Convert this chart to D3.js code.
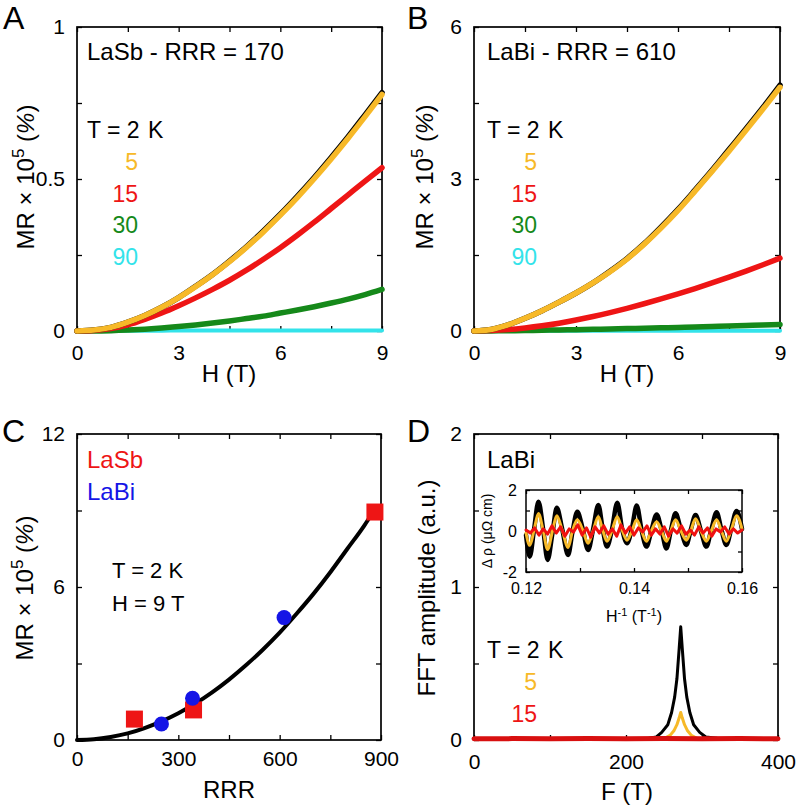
<!DOCTYPE html>
<html><head><meta charset="utf-8">
<script src="https://cdn.jsdelivr.net/npm/d3@7"></script>
<style>
body{margin:0;background:#fff}
svg{font-family:"Liberation Sans",Arial,Helvetica,sans-serif}
</style></head><body>
<svg id="c" width="796" height="806"></svg>
<script>
// ---------------- data ----------------
const fieldH = [0,0.5,1,1.5,2,2.5,3,3.5,4,4.5,5,5.5,6,6.5,7,7.5,8,8.5,9];
// Panel A : LaSb RRR=170
const lasb2K  = [0,0.003,0.012,0.029,0.051,0.078,0.110,0.147,0.186,0.230,0.277,0.329,0.384,0.443,0.505,0.571,0.639,0.711,0.784];
const lasb5K  = [0,0.003,0.012,0.029,0.051,0.078,0.110,0.146,0.185,0.228,0.275,0.326,0.381,0.439,0.501,0.566,0.634,0.705,0.778];
const lasb15K = [0,0.002,0.008,0.020,0.038,0.059,0.083,0.109,0.137,0.167,0.200,0.236,0.274,0.315,0.358,0.403,0.448,0.493,0.537];
const lasb30K = [0,0.0003,0.001,0.003,0.006,0.010,0.015,0.020,0.026,0.033,0.041,0.049,0.059,0.069,0.080,0.092,0.105,0.120,0.137];
const lasb90K = [0,0.001,0.001,0.001,0.001,0.001,0.002,0.002,0.002,0.002,0.002,0.002,0.002,0.002,0.002,0.002,0.002,0.002,0.002];
// Panel B : LaBi RRR=610
const labi2K  = [0,0.03,0.12,0.25,0.40,0.57,0.75,0.95,1.18,1.43,1.72,2.05,2.40,2.78,3.17,3.58,3.99,4.41,4.85];
const labi5K  = [0,0.03,0.12,0.25,0.40,0.57,0.75,0.95,1.17,1.42,1.71,2.03,2.38,2.76,3.15,3.55,3.96,4.38,4.81];
const labi15K = [0,0.008,0.028,0.060,0.102,0.154,0.216,0.286,0.364,0.448,0.538,0.633,0.733,0.838,0.948,1.063,1.183,1.308,1.438];
const labi30K = [0,0.002,0.005,0.010,0.015,0.021,0.027,0.033,0.040,0.047,0.055,0.062,0.070,0.079,0.088,0.098,0.108,0.119,0.130];
const labi90K = [0,0.004,0.005,0.005,0.005,0.005,0.005,0.005,0.005,0.005,0.005,0.005,0.005,0.005,0.005,0.005,0.005,0.005,0.005];
const tempLabels = ["5","15","30","90"];
// Panel C
const lasbRRR = [170, 345, 882];
const lasbMR  = [0.82, 1.18, 8.94];
const labiRRR = [250, 342, 613];
const labiMR  = [0.63, 1.64, 4.80];
const fitRRR = [0,50,100,150,200,250,300,350,400,450,500,550,600,650,700,750,800,850,865];
const fitMR  = [0,0.03,0.12,0.26,0.47,0.73,1.05,1.43,1.87,2.37,2.93,3.54,4.21,4.95,5.73,6.58,7.49,8.40,8.70];
// Panel D : FFT
const fft2KF  = [0,50,100,150,200,230,240,247,255,260,264,267,270,272,274,277,280,284,289,297,305,320,350,400];
const fft2KA  = [0.010,0.010,0.010,0.010,0.010,0.012,0.020,0.050,0.100,0.180,0.280,0.400,0.600,0.740,0.600,0.400,0.280,0.180,0.100,0.050,0.020,0.012,0.010,0.010];
const fft5KF  = [0,100,200,250,258,263,267,270,272,274,277,281,286,294,300,400];
const fft5KA  = [0.008,0.008,0.008,0.010,0.030,0.060,0.100,0.145,0.180,0.145,0.100,0.060,0.030,0.010,0.008,0.008];
const fft15KF = [0,50,100,150,200,250,300,350,400];
const fft15KA = [0.008,0.009,0.008,0.009,0.008,0.009,0.008,0.009,0.008];
// Inset : oscillations
const osc2KX = [0.12,0.1207,0.1215,0.1223,0.1232,0.124,0.1249,0.1257,0.1267,0.1278,0.1286,0.1295,0.1305,0.1315,0.1324,0.1334,0.1342,0.135,0.1359,0.1369,0.1378,0.1387,0.1396,0.1405,0.1414,0.1423,0.1432,0.1442,0.1451,0.146,0.1468,0.1477,0.1487,0.1497,0.1505,0.1514,0.1524,0.1534,0.1543,0.1553,0.1562,0.1571,0.158,0.159,0.16];
const osc2KY = [-0.2,-1.25,0.1,1.43,0.05,-1.41,-0.1,1.14,0.1,-1.17,-0.05,0.94,0.1,-0.93,0.05,1.27,0.1,-0.76,0.05,1.38,0.1,-0.6,0.1,1.24,0.05,-0.76,0,0.81,0.05,-0.85,0,0.86,0.05,-0.68,0.05,0.78,0,-0.76,0.05,0.91,0.05,-0.68,0.1,0.98,0.1];
const osc5KY = [-0.1,-0.7,0.05,0.85,0,-0.9,0,0.75,0.05,-0.8,0,0.55,0.05,-0.6,0,0.7,0.05,-0.5,0,0.7,0.05,-0.45,0,0.55,0,-0.5,0,0.45,0,-0.5,0,0.55,0,-0.45,0,0.6,0,-0.5,0,0.55,0,-0.5,0.05,0.75,0.1];
const osc15KX = [0.1200,0.1208,0.1216,0.1224,0.1232,0.1240,0.1248,0.1256,0.1264,0.1272,0.1280,0.1288,0.1296,0.1304,0.1312,0.1320,0.1328,0.1336,0.1344,0.1352,0.1360,0.1368,0.1376,0.1384,0.1392,0.1400,0.1408,0.1416,0.1424,0.1432,0.1440,0.1448,0.1456,0.1464,0.1472,0.1480,0.1488,0.1496,0.1504,0.1512,0.1520,0.1528,0.1536,0.1544,0.1552,0.1560,0.1568,0.1576,0.1584,0.1592,0.1600];
const osc15KY = [0.05,-0.1,0.15,-0.2,0.1,-0.15,0.25,-0.1,0.2,-0.25,0.1,-0.05,0.3,-0.2,0.15,-0.3,0.2,-0.1,0.25,-0.15,0.1,-0.25,0.3,-0.1,0.2,-0.2,0.15,-0.05,0.25,-0.2,0.1,-0.15,0.2,-0.25,0.1,-0.1,0.25,-0.15,0.05,-0.2,0.2,-0.1,0.15,-0.25,0.1,-0.05,0.2,-0.15,0.1,-0.1,0.05];

// ---------------- styles ----------------
const COL = {k:"#000000", y:"#F7B928", r:"#EE1515", g:"#15891A", c:"#33E3EA", b:"#1515E6"};
const svg = d3.select("#c");

function frame(o){
  const g = svg.append("g");
  const x = d3.scaleLinear().domain(o.xd).range([o.L,o.R]);
  const y = d3.scaleLinear().domain(o.yd).range([o.B,o.T]);
  const ts = o.ts || 5, fs = o.fs || 21;
  const fmt = (labels)=> d => labels.includes(d) ? String(d) : "";
  const ax = [
    g.append("g").attr("transform",`translate(0,${o.B})`).call(d3.axisBottom(x).tickValues(o.xt).tickSize(-ts).tickPadding(o.xpad||14).tickFormat(fmt(o.xl))),
    g.append("g").attr("transform",`translate(0,${o.T})`).call(d3.axisTop(x).tickValues(o.xt).tickSize(-ts).tickFormat("")),
    g.append("g").attr("transform",`translate(${o.L},0)`).call(d3.axisLeft(y).tickValues(o.yt).tickSize(-ts).tickPadding(o.ypad||12).tickFormat(fmt(o.yl))),
    g.append("g").attr("transform",`translate(${o.R},0)`).call(d3.axisRight(y).tickValues(o.yt).tickSize(-ts).tickFormat(""))
  ];
  ax.forEach(a=>{
    a.select(".domain").remove();
    a.attr("font-family",null).attr("font-size",fs);
    a.selectAll("line").attr("stroke","#000").attr("stroke-width",1.3);
    a.selectAll("text").attr("fill","#000");
  });
  g.append("rect").attr("x",o.L).attr("y",o.T).attr("width",o.R-o.L).attr("height",o.B-o.T)
    .attr("fill","none").attr("stroke","#000").attr("stroke-width",o.sw||1.7);
  return {g,x,y};
}
function line(p, xs, ys, color, w, curve){
  const pts = xs.map((v,i)=>[v,ys[i]]);
  const gen = d3.line().x(d=>p.x(d[0])).y(d=>p.y(d[1])).curve(curve||d3.curveMonotoneX);
  p.g.append("path").attr("d",gen(pts)).attr("fill","none").attr("stroke",color)
    .attr("stroke-width",w).attr("stroke-linecap","round").attr("stroke-linejoin","round");
}
function txt(x,y,s,opt={}){
  const t = svg.append("text").attr("x",x).attr("y",y).text(s)
    .attr("font-size",opt.fs||23).attr("fill",opt.c||"#000")
    .attr("text-anchor",opt.a||"start");
  return t;
}
function ylabelMR(x,y){
  const t = svg.append("text").attr("transform",`translate(${x},${y}) rotate(-90)`)
    .attr("text-anchor","middle").attr("font-size",24);
  t.append("tspan").text("MR × 10");
  t.append("tspan").attr("dy",-10).attr("font-size",17).text("5");
  t.append("tspan").attr("dy",10).text(" (");
  t.append("tspan").attr("font-style","italic").text("%");
  t.append("tspan").text(")");
}

// ---------------- Panel A ----------------
{
  const p = frame({L:77,R:382,T:27,B:331,xd:[0,9],yd:[0,1],
    xt:[0,1.5,3,4.5,6,7.5,9],xl:[0,3,6,9],yt:[0,0.25,0.5,0.75,1],yl:[0,0.5,1]});
  line(p, fieldH, lasb90K, COL.c, 4);
  line(p, fieldH, lasb30K, COL.g, 5.5);
  line(p, fieldH, lasb15K, COL.r, 5.5);
  line(p, fieldH, lasb2K, COL.k, 5.5);
  line(p, fieldH, lasb5K, COL.y, 5.5);
  txt(3,29,"A",{fs:32});
  txt(87,60,"LaSb - RRR = 170",{fs:24});
  txt(87,138,"T = 2",{fs:23}); txt(148,138,"K",{fs:23});
  const cols=[COL.y,COL.r,COL.g,COL.c];
  tempLabels.forEach((s,i)=>txt(138,170+i*31.7,s,{fs:23,c:cols[i],a:"end"}));
  ylabelMR(34,177);
  txt(229,382,"H (T)",{fs:24,a:"middle"});
}
// ---------------- Panel B ----------------
{
  const p = frame({L:474,R:780,T:27,B:331,xd:[0,9],yd:[0,6],
    xt:[0,1.5,3,4.5,6,7.5,9],xl:[0,3,6,9],yt:[0,1.5,3,4.5,6],yl:[0,3,6]});
  line(p, fieldH, labi90K, COL.c, 4);
  line(p, fieldH, labi30K, COL.g, 5.5);
  line(p, fieldH, labi15K, COL.r, 5.5);
  line(p, fieldH, labi2K, COL.k, 5.5);
  line(p, fieldH, labi5K, COL.y, 5.5);
  txt(407,29,"B",{fs:32});
  txt(487,60,"LaBi - RRR = 610",{fs:24});
  txt(487,138,"T = 2",{fs:23}); txt(548,138,"K",{fs:23});
  const cols=[COL.y,COL.r,COL.g,COL.c];
  tempLabels.forEach((s,i)=>txt(537,170+i*31.7,s,{fs:23,c:cols[i],a:"end"}));
  ylabelMR(433,177);
  txt(627,382,"H (T)",{fs:24,a:"middle"});
}
// ---------------- Panel C ----------------
{
  const p = frame({L:77,R:381,T:434,B:740,xd:[0,900],yd:[0,12],
    xt:[0,150,300,450,600,750,900],xl:[0,300,600,900],yt:[0,3,6,9,12],yl:[0,6,12],xpad:11});
  line(p, fitRRR, fitMR, COL.k, 4, d3.curveMonotoneX);
  const sq = 17;
  p.g.selectAll("rect.sq").data(lasbRRR.map((v,i)=>[v,lasbMR[i]])).enter().append("rect")
    .attr("x",d=>p.x(d[0])-sq/2).attr("y",d=>p.y(d[1])-sq/2).attr("width",sq).attr("height",sq).attr("fill",COL.r);
  p.g.selectAll("circle.ci").data(labiRRR.map((v,i)=>[v,labiMR[i]])).enter().append("circle")
    .attr("cx",d=>p.x(d[0])).attr("cy",d=>p.y(d[1])).attr("r",7.5).attr("fill",COL.b);
  txt(2,442,"C",{fs:32});
  txt(87,468,"LaSb",{fs:24,c:COL.r});
  txt(87,500,"LaBi",{fs:24,c:COL.b});
  txt(112,578,"T = 2 K",{fs:22});
  txt(112,611,"H = 9 T",{fs:22});
  ylabelMR(33,588);
  txt(229,798,"RRR",{fs:24,a:"middle"});
}
// ---------------- Panel D ----------------
{
  const p = frame({L:474,R:778,T:434,B:740,xd:[0,400],yd:[0,2],
    xt:[0,100,200,300,400],xl:[0,200,400],yt:[0,0.5,1,1.5,2],yl:[0,1,2]});
  line(p, fft2KF, fft2KA, COL.k, 3, d3.curveLinear);
  line(p, fft5KF, fft5KA, COL.y, 3, d3.curveLinear);
  line(p, fft15KF, fft15KA, "#D81010", 5, d3.curveLinear);
  txt(407,442,"D",{fs:32});
  txt(487,468,"LaBi",{fs:24});
  txt(487,658,"T = 2",{fs:23}); txt(548,658,"K",{fs:23});
  txt(537,690,"5",{fs:23,c:COL.y,a:"end"});
  txt(537,722,"15",{fs:23,c:COL.r,a:"end"});
  svg.append("text").attr("transform","translate(435,588) rotate(-90)").attr("text-anchor","middle")
    .attr("font-size",24).text("FFT amplitude (a.u.)");
  txt(627,800,"F (T)",{fs:24,a:"middle"});

  // inset
  const q = frame({L:526,R:742,T:490,B:572,xd:[0.12,0.16],yd:[-2,2],
    xt:[0.12,0.13,0.14,0.15,0.16],xl:[0.12,0.14,0.16],yt:[-2,-1,0,1,2],yl:[-2,0,2],
    ts:4,fs:16,xpad:11,ypad:9,sw:1.5});
  line(q, osc2KX, osc2KY, COL.k, 4.5, d3.curveMonotoneX);
  line(q, osc2KX, osc5KY, COL.y, 3, d3.curveMonotoneX);
  line(q, osc15KX, osc15KY, "#F01010", 3, d3.curveLinear);
  const t = svg.append("text").attr("x",634).attr("y",622).attr("text-anchor","middle").attr("font-size",16);
  t.append("tspan").text("H");
  t.append("tspan").attr("dy",-6).attr("font-size",11).text("-1");
  t.append("tspan").attr("dy",6).text(" (T");
  t.append("tspan").attr("dy",-6).attr("font-size",11).text("-1");
  t.append("tspan").attr("dy",6).text(")");
  svg.append("text").attr("transform","translate(492,531) rotate(-90)").attr("text-anchor","middle")
    .attr("font-size",14).text("Δ ρ (μΩ cm)");
}
</script>
</body></html>
